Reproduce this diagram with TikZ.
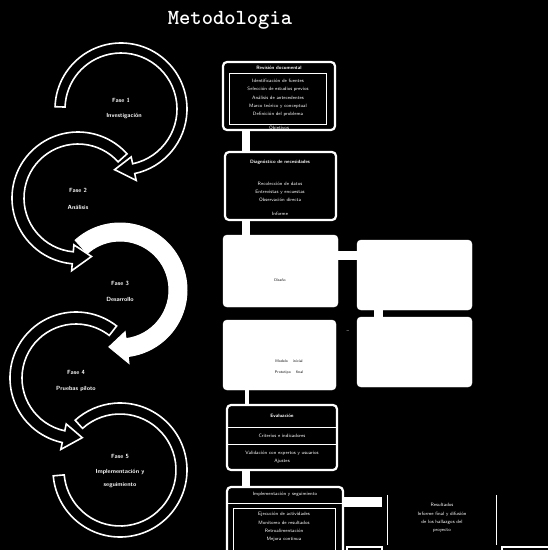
\documentclass[tikz,border=0pt]{standalone}
\usetikzlibrary{calc}
\newcommand\bandarrow[8]{% cx cy ri ro a1 a2 tipdelta style
  \path[#8] ($(#1,#2)+({#5}:{#4})$) arc[start angle={#5}, end angle={#6}, radius={#4}]
    -- ($(#1,#2)+({#6}:{#4+7})$) -- ($(#1,#2)+({#6+#7}:{(#3+#4)/2})$)
    -- ($(#1,#2)+({#6}:{#3-7})$) -- ($(#1,#2)+({#6}:{#3})$)
    arc[start angle={#6}, end angle={#5}, radius={#3}] -- cycle;}
\newcommand\bandplain[7]{% cx cy ri ro a1 a2 style
  \path[#7] ($(#1,#2)+({#5}:{#4})$) arc[start angle={#5}, end angle={#6}, radius={#4}]
    -- ($(#1,#2)+({#6}:{#3})$)
    arc[start angle={#6}, end angle={#5}, radius={#3}] -- cycle;}
\tikzset{
  ringo/.style={draw=white, line width=1.6, fill=black},
  ringf/.style={draw=white, line width=1, fill=white},
  obox/.style={draw=white, line width=2.2, fill=black, rounded corners=4, inner sep=0},
  wbox/.style={draw=white, fill=white, rounded corners=4, inner sep=0},
  conn/.style={draw=white, line width=8},
  tw/.style={text=white, font=\sffamily\fontsize{4.8}{8.3}\selectfont, align=center, inner sep=0},
  tb/.style={text=black, font=\sffamily\fontsize{3.8}{7}\selectfont, align=center, inner sep=0},
  tag/.style={text=white, font=\sffamily\bfseries\fontsize{6}{7}\selectfont, align=center, inner sep=0},
  wline/.style={draw=white, line width=1},
}
\begin{document}
\begin{tikzpicture}[x=1pt,y=1pt]
\fill[black] (0,0) rectangle (548,-550);
\useasboundingbox (0,0) rectangle (548,-550);
\clip (0,0) rectangle (548,-550);

% title
\node[text=white, font=\ttfamily\bfseries\fontsize{21.5}{23}\selectfont] (title) at (230,-20) {Metodologia};

% rings (drawn from last to first so that each arrow lies on top of the next ring)
\bandplain{120}{-470}{56}{67}{-175}{132}{ringo}
\bandarrow{76}{-378}{54}{66}{52}{258}{18}{ringo}
\bandarrow{120}{-290}{49}{67}{132}{-83}{-18}{ringf}
\bandarrow{78}{-198}{54}{66}{42}{265}{18}{ringo}
\bandarrow{121}{-109}{56}{66}{178}{-78}{-18}{ringo}

% ring labels
\node[tag] (f1) at (121,-100) {Fase 1};
\node[tag] (d1) at (124,-116) {Investigación};
\node[tag] (f2) at (78,-190) {Fase 2};
\node[tag] (d2) at (78,-207) {Análisis};
\node[tag] (f3) at (120,-283) {Fase 3};
\node[tag] (d3) at (120,-299) {Desarrollo};
\node[tag] (f4) at (76,-372) {Fase 4};
\node[tag] (d4) at (76,-389) {Pruebas piloto};
\node[tag] (f5) at (120,-456) {Fase 5};
\node[tag] (d5) at (120,-472) {Implementación y};
\node[tag] (e5) at (120,-485) {seguimiento};

% box A
\node[obox, minimum width=112, minimum height=68] (A) at (279,-96) {};
\draw[wline] (229,-73) rectangle (326,-124);
\node[tw] (At) at (279,-68) {\bfseries Revisión documental};
\node[tw] (Ab) at (278,-98) {Identificación de fuentes\\Selección de estudios previos\\Análisis de antecedentes\\Marco teórico y conceptual\\Definición del problema};
\node[tw] (Af) at (279,-128) {Objetivos};

% box B
\node[obox, minimum width=111, minimum height=68] (B) at (280.5,-186) {};
\node[tw] (Bt) at (280,-162) {\bfseries Diagnóstico de necesidades};
\node[tw] (Bb) at (280,-192) {Recolección de datos\\Entrevistas y encuestas\\Observación directa};
\node[tw] (Bf) at (280,-214) {Informe};
\draw[conn] ([xshift=-33]A.south) -- ([xshift=-33]A.south |- B.north);

% grid of filled boxes
\node[wbox, minimum width=115, minimum height=72] (C1) at (280.5,-271) {};
\node[wbox, minimum width=115, minimum height=70] (C2) at (414.5,-275) {};
\node[wbox, minimum width=113, minimum height=70] (C3) at (279.5,-355) {};
\node[wbox, minimum width=115, minimum height=70] (C4) at (414.5,-352) {};
\node[tb] (C1t) at (280,-280) {Diseño};
\node[tb] (C3t) at (289,-367) {Modelo \quad inicial\\[4pt]Prototipo \quad final};
\draw[conn] ([xshift=-34.5]B.south) -- ([xshift=-34.5]B.south |- C1.north);
\draw[conn, line width=9] ([yshift=16]C1.east) -- ([yshift=16]C1.east -| C2.west);
\draw[conn, line width=9] ([xshift=-36]C2.south) -- ([xshift=-36]C2.south |- C4.north);
\node[tw] (mid) at (348,-332) {--};

% box D
\node[obox, minimum width=110, minimum height=65] (D) at (282,-437.5) {};
\node[tw] (Dt) at (282,-416) {\bfseries Evaluación};
\draw[wline] (D.west |- 0,-427) -- (D.east |- 0,-427);
\draw[wline] (D.west |- 0,-444) -- (D.east |- 0,-444);
\node[tw] (Db) at (282,-435.5) {Criterios e indicadores};
\node[tw] (Dc) at (282,-457) {Validación con expertos y usuarios\\Ajustes};
\draw[conn, line width=4] ([xshift=-32.5]C3.south) -- ([xshift=-32.5]C3.south |- D.north);
\draw[conn] ([xshift=-36]D.south) -- ([xshift=-36]D.south |- 0,-487);

% box E
\node[obox, minimum width=116, minimum height=73] (E) at (285,-523.5) {};
\node[tw] (Et) at (285,-494) {Implementación y seguimiento};
\draw[wline] (E.west |- 0,-503) -- (E.east |- 0,-503);
\draw[wline] (233,-508) rectangle (335,-555);
\node[tw] (Eb) at (284,-527) {Ejecución de actividades\\Monitoreo de resultados\\Retroalimentación\\Mejora continua};

% box F (right, only its sides show)
\node[minimum width=108, minimum height=50, inner sep=0] (F) at (442,-520) {};
\draw[white, line width=1.2] (F.north west) -- (F.south west);
\draw[white, line width=1.2] (F.north east) -- (F.south east);
\node[tw] (Ft) at (442,-518) {Resultados\\Informe final y difusión\\de los hallazgos del\\proyecto};
\draw[conn, line width=10] ([yshift=21.5]E.east) -- ([yshift=21.5]E.east -| F.west) [shorten >=6];
\draw[white, line width=2] (347,-547) rectangle (382,-565);
\draw[white, line width=2] (502,-547) rectangle (552,-565);
\end{tikzpicture}
\end{document}
